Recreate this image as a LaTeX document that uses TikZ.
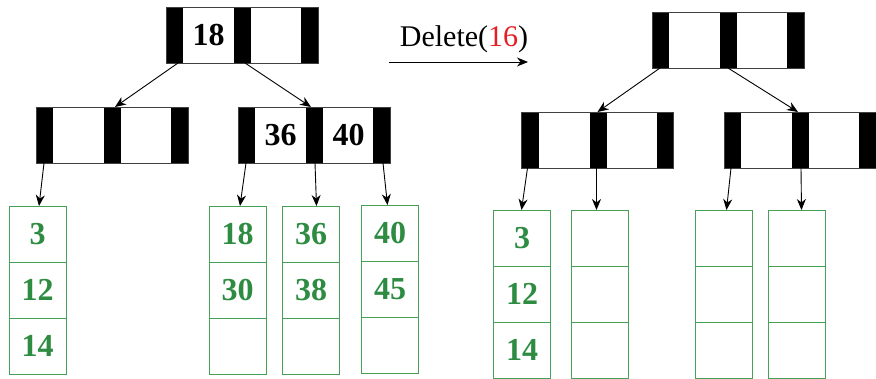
\documentclass[tikz,border=0pt]{standalone}
\usepackage{fontspec}
\setmainfont{Liberation Serif}
\usetikzlibrary{arrows.meta}
\definecolor{keygreen}{RGB}{46,140,66}
\definecolor{leafgreen}{RGB}{70,160,88}
\definecolor{delred}{RGB}{230,30,36}

\tikzset{
  % internal B+ tree node: three pointer bars, two key cells
  bnode/.style={draw=black!75, line width=0.8pt, minimum width=152pt, minimum height=56pt,
    inner sep=0pt, outer sep=0pt,
    path picture={
      \fill[black] (path picture bounding box.north west) rectangle ([xshift=17pt]path picture bounding box.south west);
      \fill[black] ([xshift=68pt]path picture bounding box.north west) rectangle ([xshift=85pt]path picture bounding box.south west);
      \fill[black] ([xshift=135pt]path picture bounding box.north west) rectangle (path picture bounding box.south east);
    }},
  % leaf node: three stacked key cells
  leaf/.style={draw=leafgreen, line width=1pt, minimum width=57pt, minimum height=168pt,
    inner sep=0pt, outer sep=0pt,
    path picture={
      \draw[leafgreen, line width=1pt] ([yshift=-56pt]path picture bounding box.north west) -- ++(57,0);
      \draw[leafgreen, line width=1pt] ([yshift=-112pt]path picture bounding box.north west) -- ++(57,0);
    }},
  key/.style={font=\bfseries\fontsize{32}{32}\selectfont, inner sep=0pt},
  leafkey/.style={key, text=keygreen},
  arr/.style={-{Stealth[length=11pt,width=9pt,inset=3.5pt]}, line width=0.9pt},
}

\begin{document}
\begin{tikzpicture}[x=1pt, y=-1pt]
\useasboundingbox (0,0) rectangle (876,378);

% ---------- tree before the deletion ----------
\node[bnode] (r1) at (242,35) {};
\node[bnode] (a1) at (112,135) {};
\node[bnode] (b1) at (314,135) {};
\node[key] (r1k1) at ([xshift=42.5pt]r1.west) {18};
\node[key] (b1k1) at ([xshift=42.5pt]b1.west) {36};
\node[key] (b1k2) at ([xshift=110.5pt]b1.west) {40};

\node[leaf] (L1) at (37.5,290) {};
\node[leaf] (L2) at (237.5,290) {};
\node[leaf] (L3) at (311,290) {};
\node[leaf] (L4) at (390,289) {};

\node[leafkey] (L1k1) at ([yshift=-28pt]L1.north) {3};
\node[leafkey] (L1k2) at ([yshift=-84pt]L1.north) {12};
\node[leafkey] (L1k3) at ([yshift=-140pt]L1.north) {14};
\node[leafkey] (L2k1) at ([yshift=-28pt]L2.north) {18};
\node[leafkey] (L2k2) at ([yshift=-84pt]L2.north) {30};
\node[leafkey] (L3k1) at ([yshift=-28pt]L3.north) {36};
\node[leafkey] (L3k2) at ([yshift=-84pt]L3.north) {38};
\node[leafkey] (L4k1) at ([yshift=-28pt]L4.north) {40};
\node[leafkey] (L4k2) at ([yshift=-84pt]L4.north) {45};

\draw[arr] ([xshift=12pt]r1.south west) -- ([xshift=79pt]a1.north west);
\draw[arr] ([xshift=79pt]r1.south west) -- ([xshift=73pt]b1.north west);
\draw[arr] ([xshift=8pt]a1.south west) -- ([xshift=30pt]L1.north west);
\draw[arr] ([xshift=8pt]b1.south west) -- ([xshift=31pt]L2.north west);
\draw[arr] ([xshift=77pt]b1.south west) -- ([xshift=34pt]L3.north west);
\draw[arr] ([xshift=145pt]b1.south west) -- ([xshift=26pt]L4.north west);

% ---------- operation ----------
\coordinate (d0) at (389,62);
\coordinate (d1) at (528,62);
\draw[arr] (d0) -- (d1);
\node[font=\fontsize{30}{30}\selectfont, anchor=base, inner sep=0pt] (op) at (464,46)
  {Delete(\textcolor{delred}{16})};

% ---------- tree after the deletion ----------
\node[bnode] (r2) at (728,40) {};
\node[bnode] (a2) at (597.5,140) {};
\node[bnode] (b2) at (800,140) {};

\node[leaf] (R1) at (522,294) {};
\node[leaf] (R2) at (600,294) {};
\node[leaf] (R3) at (724,294) {};
\node[leaf] (R4) at (797,294) {};

\node[leafkey] (R1k1) at ([yshift=-28pt]R1.north) {3};
\node[leafkey] (R1k2) at ([yshift=-84pt]R1.north) {12};
\node[leafkey] (R1k3) at ([yshift=-140pt]R1.north) {14};

\draw[arr] ([xshift=8pt]r2.south west) -- ([xshift=76pt]a2.north west);
\draw[arr] ([xshift=76pt]r2.south west) -- ([xshift=74pt]b2.north west);
\draw[arr] ([xshift=6pt]a2.south west) -- ([xshift=28pt]R1.north west);
\draw[arr] ([xshift=75pt]a2.south west) -- ([xshift=25pt]R2.north west);
\draw[arr] ([xshift=7pt]b2.south west) -- ([xshift=31pt]R3.north west);
\draw[arr] ([xshift=77pt]b2.south west) -- ([xshift=33pt]R4.north west);
\end{tikzpicture}
\end{document}
